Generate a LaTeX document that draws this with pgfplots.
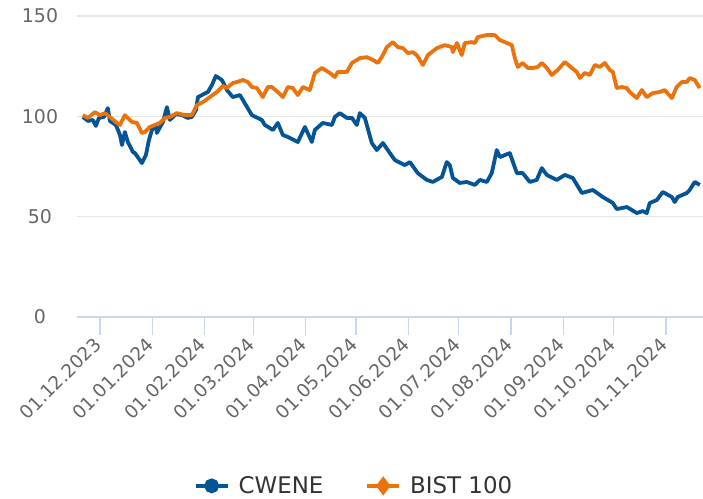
\documentclass[border=0pt]{standalone}
\usepackage{fontspec}
\setmainfont{DejaVu Sans}
\usepackage{pgfplots}
\pgfplotsset{compat=1.18}
\definecolor{cblue}{RGB}{4,84,150}
\definecolor{corange}{RGB}{234,115,13}
\definecolor{gridc}{RGB}{230,230,230}
\definecolor{axisc}{RGB}{204,214,235}
\definecolor{tickc}{RGB}{102,102,102}
\definecolor{legc}{RGB}{51,51,51}
\begin{document}
\begin{tikzpicture}
\path[use as bounding box] (-77bp,-182bp) rectangle (626bp,317bp);
\begin{axis}[
  at={(0bp,0bp)}, anchor=south west,
  scale only axis, width=626bp, height=301bp,
  xmin=-13.6, xmax=358, ymin=0, ymax=150,
  axis x line*=bottom, axis y line*=left,
  x axis line style={axisc, line width=1.2bp},
  y axis line style={draw=none},
  ytick={0,50,100,150},
  ymajorgrids, grid style={gridc, line width=1.5bp},
  xtick={0,31,62,91,122,152,183,213,244,275,305,336},
  xticklabels={01.12.2023,01.01.2024,01.02.2024,01.03.2024,01.04.2024,01.05.2024,01.06.2024,01.07.2024,01.08.2024,01.09.2024,01.10.2024,01.11.2024},
  major tick length=18bp,
  tick align=outside,
  x tick style={axisc, line width=1.2bp},
  y tick style={draw=none},
  xticklabel style={anchor=east, inner sep=0pt, xshift=-2bp, yshift=-6bp, rotate=45, font=\fontsize{18.5}{22}\selectfont, text=tickc},
  yticklabel style={anchor=center, font=\fontsize{19}{22}\selectfont, text=tickc, xshift=-19bp},
  /pgf/number format/assume math mode=true,
  legend columns=2,
  legend style={draw=none, at={(0.4425,-0.561)}, anchor=center, font=\fontsize{23}{27}\selectfont, text=legc,
    /tikz/every odd column/.append style={column sep=7bp},
    /tikz/every even column/.append style={column sep=40bp}},
  legend image code/.code={\draw[mark repeat=2,mark phase=2,#1] plot coordinates {(0bp,0bp) (16bp,0bp) (32bp,0bp)};},
  clip=false,
]
\addplot[cblue, line width=3.8bp, line join=round, forget plot] coordinates {
(-10.1,99.7) (-7.1,97.7) (-4.2,98.2) (-2.4,95.2) (-0.6,99.2) (2.4,99.7) (4.7,104.1) (5.9,97.7) (9.5,95.7) (11.9,90.7) (13.1,85.7) (14.8,92.2) (16.6,87.2) (19.6,82.2) (20.8,81.7) (24.9,76.7) (27.3,80.7) (29.1,88.2) (30.9,93.2) (33.2,95.7) (33.8,91.7) (37.4,97.2) (39.8,104.6) (41.5,98.2) (45.1,101.1) (48.7,100.6) (52.2,99.2) (54.6,99.7) (57.0,103.1) (58.2,109.6) (61.7,111.1) (64.1,112.1) (66.5,115.6) (68.8,120.1) (72.4,118.1) (75.4,113.1) (78.9,109.6) (83.1,110.6) (84.9,108.1) (90.2,100.6) (96.1,98.2) (97.9,95.7) (102.7,93.2) (105.6,96.7) (108.6,90.7) (111.6,89.7) (117.5,87.2) (121.7,94.7) (125.8,87.2) (127.6,93.2) (132.3,96.7) (137.7,95.7) (139.5,99.7) (142.4,101.6) (146.6,99.2) (149.6,99.2) (152.5,95.7) (154.3,101.6) (157.3,99.2) (161.4,86.7) (164.4,83.2) (168.0,86.7) (172.1,81.7) (175.1,78.2) (181.0,75.7) (184.0,77.2) (188.7,71.7) (194.1,68.3) (197.6,67.3) (203.0,69.8) (205.9,77.2) (207.7,75.7) (209.5,69.3) (213.6,66.8) (217.8,67.3) (222.6,65.8) (225.5,68.3) (229.7,67.3) (232.6,71.7) (235.6,83.2) (237.4,79.7) (240.4,80.7) (243.3,81.7) (247.5,71.7) (251.0,71.7) (255.2,67.3) (259.3,68.3) (262.3,74.2) (265.3,70.8) (271.2,68.3) (276.0,70.8) (280.7,69.3) (286.1,61.8) (292.6,63.3) (298.5,59.8) (304.5,56.8) (306.8,53.8) (312.8,54.8) (318.7,51.8) (322.3,52.8) (324.6,51.8) (326.4,56.8) (330.6,58.3) (334.1,62.3) (339.5,59.8) (341.2,57.3) (343.0,59.8) (348.4,61.8) (350.1,63.3) (353.1,67.3) (356.1,65.8)
};
\addplot[corange, line width=3.8bp, line join=round, forget plot] coordinates {
(-10.1,100.6) (-7.1,99.2) (-3.0,102.1) (0,100.6) (3.0,101.6) (5.9,99.7) (10.1,96.7) (11.9,95.7) (14.8,100.6) (19.0,97.2) (22.0,96.7) (24.9,91.7) (26.7,92.2) (29.7,94.7) (32.6,95.7) (35.6,96.7) (38.6,99.2) (41.5,99.7) (45.7,101.6) (50.4,100.6) (54.6,100.6) (57.6,105.6) (61.1,107.1) (65.3,109.6) (69.4,112.1) (73.0,115.1) (75.4,114.1) (78.9,116.6) (81.3,117.1) (84.9,118.1) (87.8,117.1) (90.2,114.6) (93.2,114.1) (96.7,109.6) (99.7,114.6) (102.1,114.6) (105.6,112.1) (108.6,109.6) (111.6,114.6) (114.5,114.1) (117.5,110.6) (120.5,114.6) (124.6,113.1) (127.6,121.6) (131.8,124.1) (136.5,121.6) (139.5,119.6) (141.2,122.1) (146.6,122.1) (149.6,126.6) (154.3,129.0) (158.5,129.5) (162.0,128.1) (165.0,126.6) (168.0,130.5) (170.3,134.5) (173.9,137.0) (176.9,134.5) (179.8,134.0) (182.8,131.5) (185.8,132.0) (188.1,130.5) (191.7,125.6) (194.7,130.5) (200.0,134.0) (204.7,135.5) (208.9,134.5) (209.5,132.0) (211.9,136.5) (214.8,130.5) (216.6,136.5) (220.8,137.0) (222.6,136.5) (224.3,139.5) (229.7,140.5) (234.4,140.5) (237.4,138.0) (240.4,137.0) (244.5,135.5) (246.3,129.0) (248.1,124.6) (251.0,126.6) (254.0,124.1) (257.0,124.1) (259.9,124.6) (262.3,126.6) (265.3,124.1) (268.2,120.6) (271.8,123.1) (276.0,127.1) (280.1,124.1) (283.1,122.1) (284.9,119.1) (287.8,121.6) (290.8,120.6) (293.8,125.6) (296.7,124.6) (299.7,126.6) (302.7,123.1) (304.5,122.1) (306.8,114.1) (309.8,114.6) (312.8,114.1) (314.5,112.1) (318.7,109.1) (321.7,113.1) (324.6,109.6) (328.2,111.6) (332.3,112.1) (335.3,113.1) (339.5,109.1) (342.4,114.6) (345.4,117.1) (348.4,117.1) (350.1,119.1) (353.1,118.1) (356.1,114.1)
};
\addlegendimage{cblue, line width=3.8bp, mark=*, mark size=5.5bp, mark options={solid}}
\addlegendentry{CWENE}
\addlegendimage{corange, line width=3.8bp, mark=diamond*, mark size=6.5bp, mark options={solid}}
\addlegendentry{BIST 100}
\end{axis}
\end{tikzpicture}
\end{document}
